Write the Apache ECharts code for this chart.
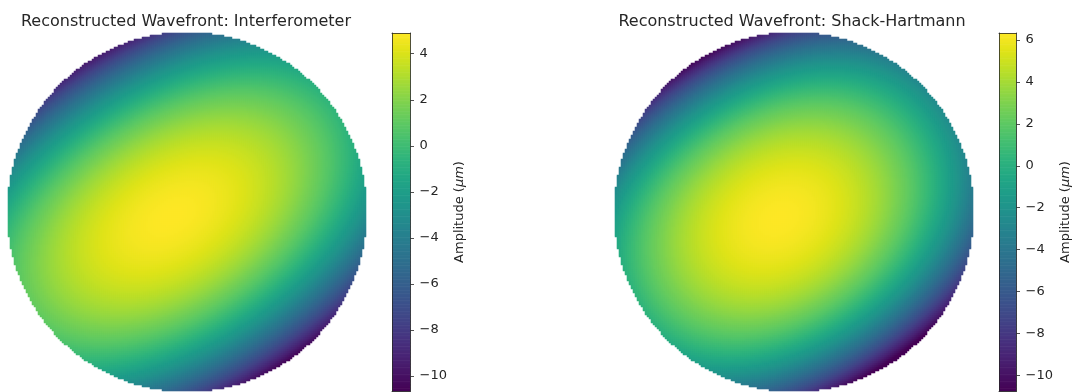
<!DOCTYPE html>
<html><head><meta charset="utf-8">
<script src="https://cdn.jsdelivr.net/npm/echarts@6/dist/echarts.min.js"></script>
<style>html,body{margin:0;padding:0;background:#fff}#c{width:1075px;height:392px}</style>
</head><body><div id="c"></div>
<script>
const titles = ['Reconstructed Wavefront: Interferometer', 'Reconstructed Wavefront: Shack-Hartmann'];
const colorbarLabel = 'Amplitude ({i|μm})';
const tickValues = [-10, -8, -6, -4, -2, 0, 2, 4, 6];
const rangeInterferometer = [-10.65, 4.9];
const rangeShackHartmann = [-10.75, 6.34];
// fitted wavefront shape: [peak μm, peak x, peak y, major-axis angle°, major curvature, minor curvature, minor quartic, radial quartic, minor tilt]
const fitInterferometer = [4.9, -0.07, -0.05, 32, 4.3, 12.0, 2.5, 0.2, 0.7];
const fitShackHartmann = [6.34, -0.08, -0.04, 32, 6.8, 12.0, 4.5, 0.5, 0.15];
const pupilSamples = [179];
const pupilMaskRadius = [1.0042];
const viridis = ['#440154','#471365','#482475','#463480','#414487','#3b528b','#355f8d','#2f6c8e','#2a788e','#25848e','#21918c','#1e9c89','#22a884','#2fb47c','#44bf70','#5ec962','#7ad151','#9bd93c','#bddf26','#dfe318','#fde725'];

function waveValue(fit, x, y) {
  const [w0, px, py, ang, a, b, q, s4, tv] = fit;
  const t = ang * Math.PI / 180, c = Math.cos(t), s = Math.sin(t);
  const dx = x - px, dy = y - py;
  const u = dx * c + dy * s, v = -dx * s + dy * c;
  const r2 = u * u + v * v;
  return w0 - a * u * u - b * v * v - q * v * v * v * v - s4 * r2 * r2 + tv * v;
}
function buildMap(fit) {
  const N = pupilSamples[0], R2 = pupilMaskRadius[0] * pupilMaskRadius[0], out = [];
  for (let i = 0; i < N; i++) {
    for (let j = 0; j < N; j++) {
      const x = (i + 0.5) / N * 2 - 1, y = (j + 0.5) / N * 2 - 1;
      if (x * x + y * y <= R2) out.push([i, j, +waveValue(fit, x, y).toFixed(3)]);
    }
  }
  return out;
}
function colorbarData(range) {
  const n = 256, out = [], st = (range[1] - range[0]) / n;
  for (let k = 0; k < n; k++) {
    const lo = range[0] + k * st;
    out.push([lo, lo + st, lo + st / 2]);
  }
  return out;
}
const idx = Array.from({length: pupilSamples[0]}, (_, i) => i);
const fnt = 'DejaVu Sans';
const minus = v => (v < 0 ? '\u2212' + Math.abs(v) : String(v));

const panels = [
  {title: titles[0], fit: fitInterferometer, range: rangeInterferometer, imgLeft: 8, titleX: 181, cbLeft: 392, cbW: 18.5},
  {title: titles[1], fit: fitShackHartmann, range: rangeShackHartmann, imgLeft: 615, titleX: 787, cbLeft: 999, cbW: 17.5}
];
const option = {animation: false, backgroundColor: '#fff', title: [], grid: [], xAxis: [], yAxis: [], series: [], visualMap: []};
panels.forEach((p, k) => {
  const g = option.grid.length;
  option.title.push({text: p.title, left: p.titleX, top: 9, textAlign: 'center',
    textStyle: {fontFamily: fnt, fontSize: 16, fontWeight: 'normal', color: '#262626'}});
  option.grid.push({left: p.imgLeft, top: 33, width: 358, height: 358});
  option.grid.push({left: p.cbLeft, top: 33, width: p.cbW, height: 358});
  const xi = option.xAxis.length, yi = option.yAxis.length;
  option.xAxis.push({type: 'category', data: idx, gridIndex: g, show: false});
  option.yAxis.push({type: 'category', data: idx, gridIndex: g, show: false});
  const line = {show: true, onZero: false, lineStyle: {color: '#262626', width: 0.8}};
  const off = {show: false};
  option.xAxis.push({type: 'value', gridIndex: g + 1, min: 0, max: 1, position: 'bottom', z: 10, axisLine: line, axisTick: off, axisLabel: off, splitLine: off});
  option.xAxis.push({type: 'value', gridIndex: g + 1, min: 0, max: 1, position: 'top', z: 10, axisLine: line, axisTick: off, axisLabel: off, splitLine: off});
  option.yAxis.push({type: 'value', gridIndex: g + 1, min: p.range[0], max: p.range[1], position: 'left', z: 10, axisLine: line, axisTick: off, axisLabel: off, splitLine: off});
  const ticks = tickValues.filter(v => v >= p.range[0] && v <= p.range[1]);
  option.yAxis.push({type: 'value', gridIndex: g + 1, min: p.range[0], max: p.range[1], position: 'right', z: 10,
    axisLine: line, splitLine: off,
    axisTick: {show: true, length: 3.5, customValues: ticks, lineStyle: {color: '#262626', width: 0.8}},
    axisLabel: {show: true, customValues: ticks, formatter: minus, margin: 9, fontFamily: fnt, fontSize: 13, color: '#262626'},
    name: colorbarLabel, nameLocation: 'middle', nameRotate: 90, nameGap: 43,
    nameTextStyle: {fontFamily: fnt, fontSize: 13, color: '#262626', rich: {i: {fontFamily: fnt, fontSize: 13, fontStyle: 'italic', color: '#262626'}}}});
  const s0 = option.series.length;
  option.series.push({type: 'heatmap', xAxisIndex: xi, yAxisIndex: yi, data: buildMap(p.fit), progressive: 0, emphasis: {disabled: true}, itemStyle: {borderWidth: 0}});
  option.series.push({type: 'custom', xAxisIndex: xi + 1, yAxisIndex: yi + 2, data: colorbarData(p.range), encode: {x: 0, y: 1}, silent: true,
    renderItem: (params, api) => {
      const a = api.coord([0, api.value(0)]);
      const b = api.coord([1, api.value(1)]);
      return {type: 'rect', shape: {x: a[0], y: b[1], width: b[0] - a[0], height: a[1] - b[1] + 0.6}, style: {fill: api.visual('color')}};
    }});
  option.visualMap.push({type: 'continuous', show: false, min: p.range[0], max: p.range[1], dimension: 2, seriesIndex: [s0, s0 + 1], inRange: {color: viridis}});
});
const chart = echarts.init(document.getElementById('c'), null, {renderer: 'canvas'});
chart.setOption(option);
</script></body></html>
